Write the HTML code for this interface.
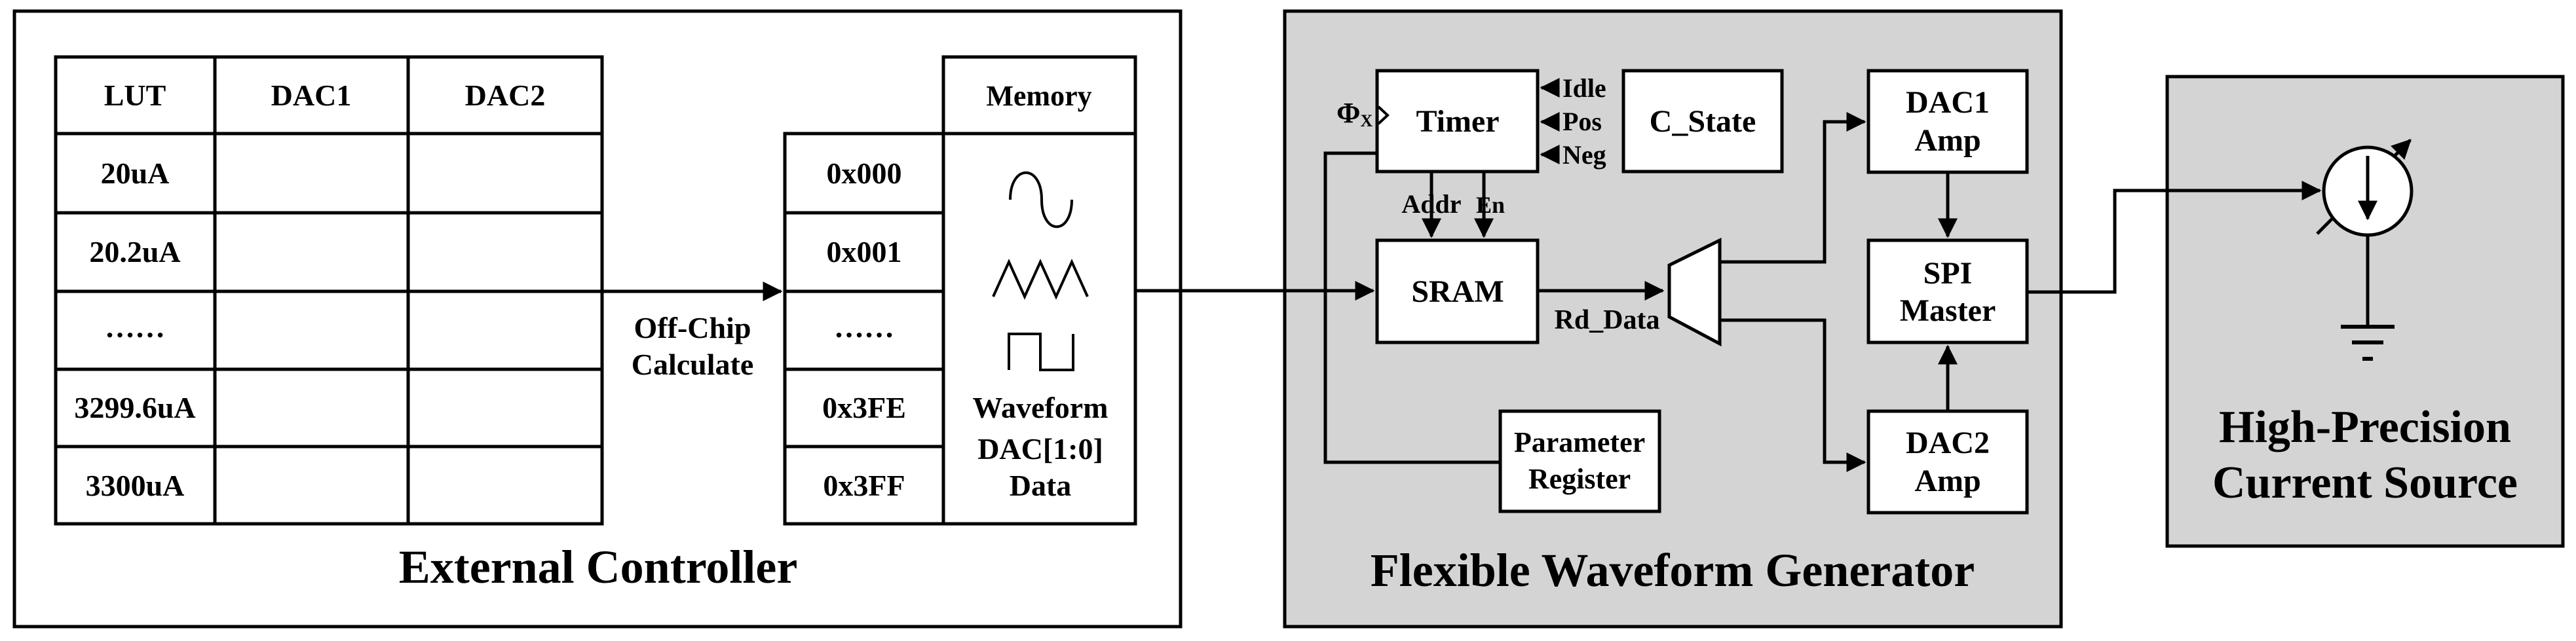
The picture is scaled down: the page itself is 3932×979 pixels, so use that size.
<!DOCTYPE html>
<html><head><meta charset="utf-8"><style>
html,body{margin:0;padding:0;background:#fff;}
svg{display:block;}
text{font-family:"Liberation Serif",serif;font-weight:bold;fill:#000;}
</style></head><body>
<svg width="3932" height="979" viewBox="0 0 3932 979" xmlns="http://www.w3.org/2000/svg">
<defs>
<marker id="a" markerWidth="6" markerHeight="6" refX="5.5" refY="3" orient="auto" markerUnits="strokeWidth"><path d="M0,0 L6,3 L0,6 Z" fill="#000"/></marker>
</defs>
<g stroke="#000" stroke-width="5" fill="none">
<rect x="22" y="17" width="1780" height="940" fill="#fff"/>
<rect x="85" y="87" width="834" height="713"/>
<line x1="328" y1="87" x2="328" y2="800"/>
<line x1="623" y1="87" x2="623" y2="800"/>
<line x1="85" y1="204" x2="919" y2="204"/>
<line x1="85" y1="325" x2="919" y2="325"/>
<line x1="85" y1="445" x2="919" y2="445"/>
<line x1="85" y1="564" x2="919" y2="564"/>
<line x1="85" y1="682" x2="919" y2="682"/>
<rect x="1440" y="87" width="293" height="713"/>
<line x1="1440" y1="204" x2="1733" y2="204"/>
<rect x="1198" y="204" width="242" height="596"/>
<line x1="1198" y1="325" x2="1440" y2="325"/>
<line x1="1198" y1="445" x2="1440" y2="445"/>
<line x1="1198" y1="564" x2="1440" y2="564"/>
<line x1="1198" y1="682" x2="1440" y2="682"/>
<line x1="919" y1="445" x2="1192" y2="445" marker-end="url(#a)"/>
<path d="M1542,305 C1542,250 1590,250 1590,305 C1590,360 1636,360 1636,305" stroke-width="4"/>
<path d="M1516,453 L1540,400 L1564,453 L1588,400 L1612,453 L1636,400 L1660,453" stroke-width="4"/>
<path d="M1540,565 L1540,510 L1588,510 L1588,565 L1638,565 L1638,510" stroke-width="4"/>
<rect x="1961" y="17" width="1185" height="940" fill="#d4d4d4"/>
<line x1="1733" y1="444" x2="2096" y2="444" marker-end="url(#a)"/>
<rect x="2102" y="108" width="245" height="154" fill="#fff"/>
<path d="M2104,163 L2118,176 L2104,189" stroke-width="4"/>
<rect x="2478" y="108" width="242" height="154" fill="#fff"/>
<line x1="2372" y1="134" x2="2353" y2="134" marker-end="url(#a)"/>
<line x1="2372" y1="186" x2="2353" y2="186" marker-end="url(#a)"/>
<line x1="2372" y1="236" x2="2353" y2="236" marker-end="url(#a)"/>
<polyline points="2102,234 2023,234 2023,706 2290,706"/>
<rect x="2290" y="628" width="243" height="153" fill="#fff"/>
<line x1="2185" y1="262" x2="2185" y2="361" marker-end="url(#a)"/>
<line x1="2265" y1="262" x2="2265" y2="361" marker-end="url(#a)"/>
<rect x="2102" y="367" width="245" height="156" fill="#fff"/>
<line x1="2347" y1="444" x2="2538" y2="444" marker-end="url(#a)"/>
<polygon points="2548,405 2625,367 2625,525 2548,484" fill="#fff"/>
<polyline points="2625,400 2785,400 2785,186 2846,186" marker-end="url(#a)"/>
<polyline points="2625,489 2785,489 2785,706 2846,706" marker-end="url(#a)"/>
<rect x="2852" y="108" width="242" height="155" fill="#fff"/>
<rect x="2852" y="367" width="242" height="156" fill="#fff"/>
<rect x="2852" y="628" width="242" height="155" fill="#fff"/>
<line x1="2973" y1="263" x2="2973" y2="361" marker-end="url(#a)"/>
<line x1="2973" y1="628" x2="2973" y2="529" marker-end="url(#a)"/>
<rect x="3308" y="117" width="604" height="717" fill="#d4d4d4"/>
<polyline points="3094,446 3228,446 3228,291 3541,291" marker-end="url(#a)"/>
<line x1="3537" y1="357" x2="3679" y2="214" marker-end="url(#a)"/>
<circle cx="3614" cy="292" r="67" fill="#fff"/>
<line x1="3614" y1="238" x2="3614" y2="334" marker-end="url(#a)"/>
<line x1="3614" y1="359" x2="3614" y2="499"/>
<line x1="3573" y1="499" x2="3655" y2="499" stroke-width="6"/>
<line x1="3590" y1="523" x2="3638" y2="523" stroke-width="6"/>
<line x1="3606" y1="548" x2="3622" y2="548" stroke-width="6"/>
</g>
<g font-size="46" text-anchor="middle">
<text x="206" y="161">LUT</text>
<text x="475" y="161">DAC1</text>
<text x="771" y="161">DAC2</text>
<text x="1586" y="161" font-size="44">Memory</text>
<text x="206" y="280">20uA</text>
<text x="206" y="400">20.2uA</text>
<text x="206" y="515">……</text>
<text x="206" y="638">3299.6uA</text>
<text x="206" y="757">3300uA</text>
<text x="1319" y="280">0x000</text>
<text x="1319" y="400">0x001</text>
<text x="1319" y="515">……</text>
<text x="1319" y="638">0x3FE</text>
<text x="1319" y="757">0x3FF</text>
<text x="1057" y="516">Off-Chip</text>
<text x="1057" y="572">Calculate</text>
<text x="1588" y="638">Waveform</text>
<text x="1588" y="701">DAC[1:0]</text>
<text x="1588" y="757">Data</text>
<text x="913" y="890" font-size="72">External Controller</text>
<text x="2225" y="201" font-size="48">Timer</text>
<text x="2599" y="201" font-size="48">C_State</text>
<text x="2225" y="461" font-size="48">SRAM</text>
<text x="2973" y="172" font-size="48">DAC1</text>
<text x="2973" y="230" font-size="48">Amp</text>
<text x="2973" y="433" font-size="48">SPI</text>
<text x="2973" y="490" font-size="48">Master</text>
<text x="2973" y="692" font-size="48">DAC2</text>
<text x="2973" y="750" font-size="48">Amp</text>
<text x="2411" y="690" font-size="44">Parameter</text>
<text x="2411" y="746" font-size="44">Register</text>
<text x="2453" y="502" font-size="42">Rd_Data</text>
<text x="2185" y="325" font-size="40">Addr</text>
<text x="2275" y="325" font-size="36">En</text>
<text x="2553" y="895" font-size="72">Flexible Waveform Generator</text>
<text x="3610" y="675" font-size="70">High-Precision</text>
<text x="3610" y="760" font-size="70">Current Source</text>
</g>
<g font-size="40">
<text x="2385" y="148">Idle</text>
<text x="2385" y="199">Pos</text>
<text x="2385" y="250">Neg</text>
<text x="2040" y="187" font-size="44">Φ<tspan font-size="26" dy="6">X</tspan></text>
</g>
</svg>
</body></html>
